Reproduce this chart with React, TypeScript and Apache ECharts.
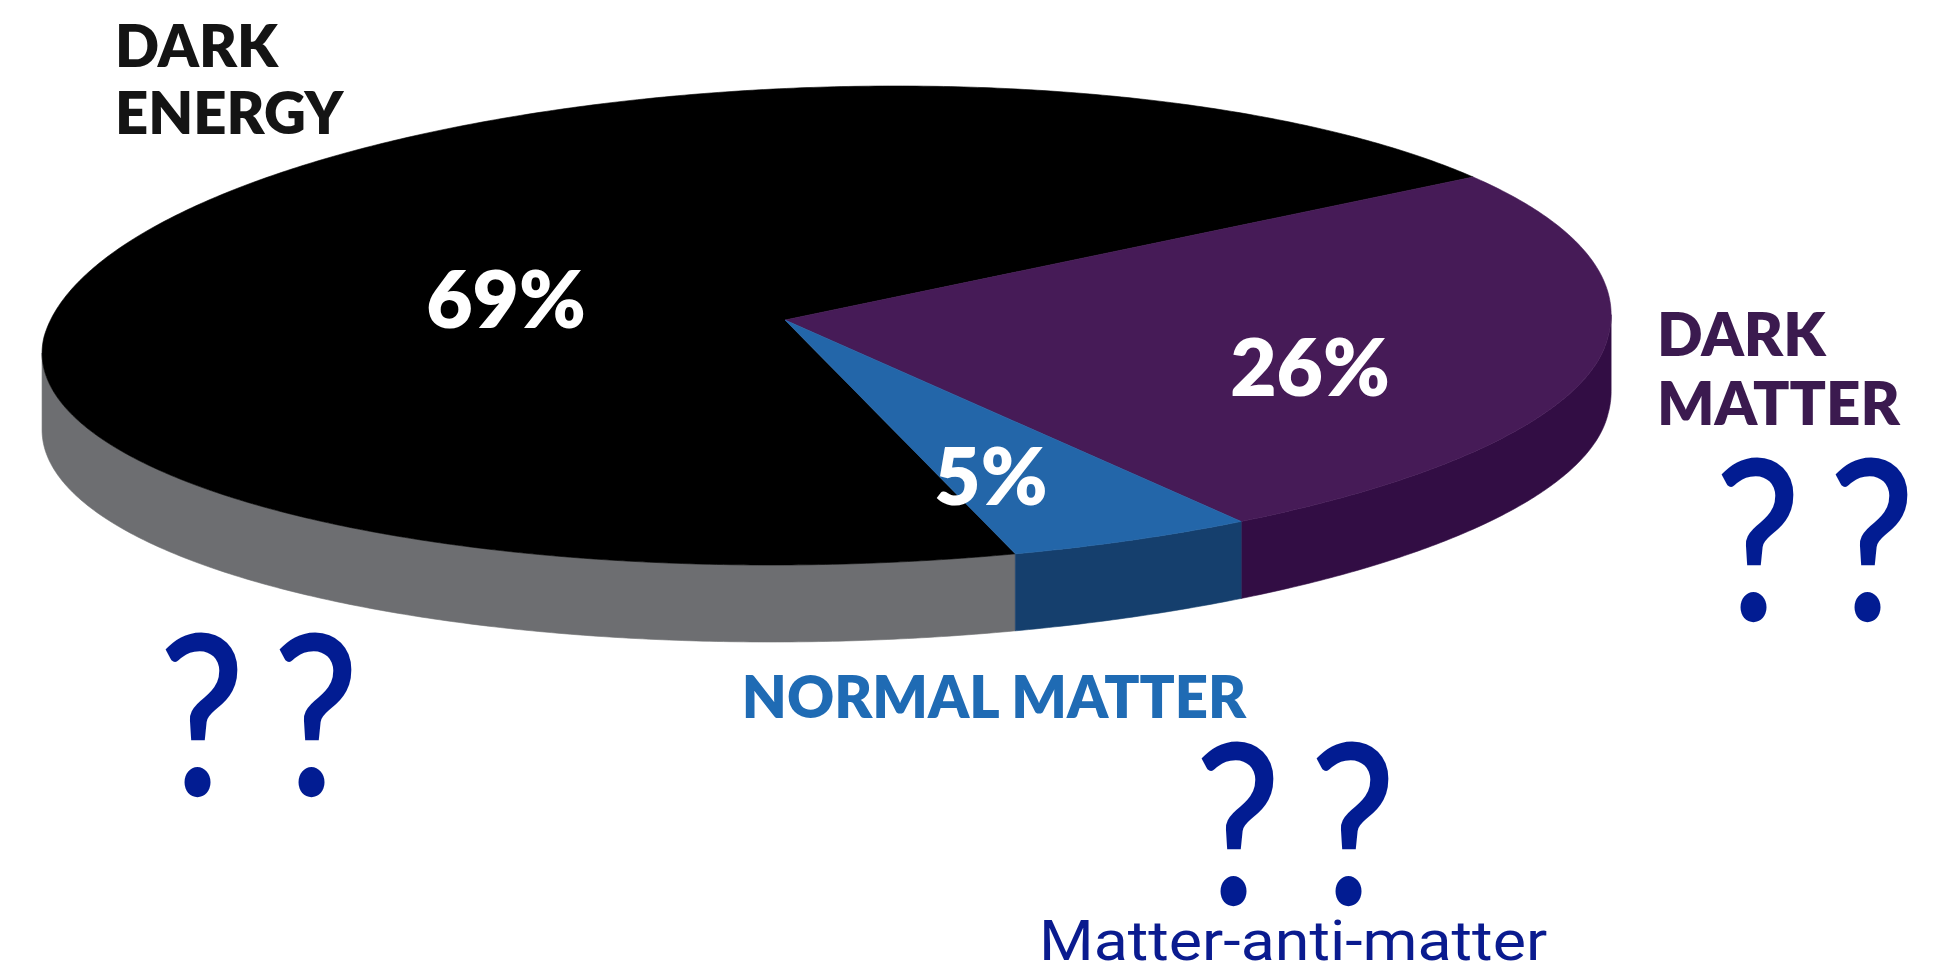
import React, { useEffect, useRef } from "react";
import * as echarts from "echarts";

// ---------------- data ----------------
const categories = ["DARK ENERGY", "DARK MATTER", "NORMAL MATTER"];
const shares = [69, 26, 5];
const questionMarks = ["??", "??", "??"];
const annotation = "Matter-anti-matter";

// ---------------- styles / layout ----------------
const topColors = ["#000000", "#461b57", "#2366a9"];
const sideColors = ["#6d6e71", "#320d44", "#153f6d"];
const nameColors = ["#141414", "#3b1a4f", "#1f6bb4"];
const qColor = "#021c92";

const W = 1942;
const H = 974;
const CX = 826;
const CY = 337;
const RX = 782;
const RY_TOP = 251;
const RY_BOT = 228;
const SHEAR_TOP = 70;
const SHEAR_BOT = 55;
const DEPTH = 77;
const APEX = [785, 320];
const START_ANGLE = 288; // degrees, slices run clockwise

const VALUE_LABEL_POS = [
  [506, 297],
  [1310, 365],
  [991, 474],
];
const NAME_LAYOUT = [
  { x: 115, ys: [44, 111], align: "left", wrap: true, size: 58 },
  { x: 1657, ys: [333, 402], align: "left", wrap: true, size: 60 },
  { x: 994, ys: [695], align: "center", wrap: false, size: 58 },
];
const Q_LAYOUT = [
  { xs: [202, 316], y: 708 },
  { xs: [1758, 1872], y: 533 },
  { xs: [1238, 1353], y: 817 },
];

const LABEL_FONT = "Lato, 'Open Sans', sans-serif";

// parametric rim point (t in degrees, counter-clockwise, math orientation)
function rim(deg: number): number[] {
  const t = (deg * Math.PI) / 180;
  const c = Math.cos(t);
  const s = Math.sin(t);
  if (s >= 0) return [CX + RX * c + SHEAR_TOP * s, CY - RY_TOP * s];
  return [CX + RX * c + SHEAR_BOT * s, CY - RY_BOT * s];
}

// side wall is visible between the two silhouette points
const T_RIGHT = (Math.atan(SHEAR_TOP / RX) * 180) / Math.PI;
const T_LEFT = 180 + (Math.atan(SHEAR_BOT / RX) * 180) / Math.PI;
function sideVisible(a: number): boolean {
  const n = ((a % 360) + 360) % 360;
  return n >= T_LEFT - 1e-6 || n <= T_RIGHT + 1e-6;
}

function angleList(a0: number, a1: number): number[] {
  const list: number[] = [];
  for (let a = a0; a > a1; a -= 0.5) list.push(a);
  list.push(a1);
  for (let m = -3; m <= 3; m++) {
    for (const b of [T_RIGHT, T_LEFT]) {
      const v = b + m * 360;
      if (v < a0 && v > a1) list.push(v);
    }
  }
  const uniq = Array.from(new Set(list.map((v) => Math.round(v * 1e6) / 1e6)));
  uniq.sort((p, q) => q - p);
  return uniq;
}

export default function App() {
  const ref = useRef<HTMLDivElement>(null);

  useEffect(() => {
    if (!ref.current) return;
    const chart = echarts.init(ref.current, undefined, { renderer: "svg" });
    const total = shares.reduce((a, b) => a + b, 0);

    const renderItem = (params: any, api: any) => {
      const i = params.dataIndex;
      let before = 0;
      for (let j = 0; j < i; j++) before += shares[j];
      const value = api.value(0);
      const a0 = START_ANGLE - (before / total) * 360;
      const a1 = a0 - (value / total) * 360;
      const angles = angleList(a0, a1);

      const children: any[] = [];

      // side wall
      const runs: number[][] = [];
      let cur: number[] = [];
      for (const a of angles) {
        if (sideVisible(a)) {
          cur.push(a);
        } else {
          if (cur.length > 1) runs.push(cur);
          cur = [];
        }
      }
      if (cur.length > 1) runs.push(cur);
      for (const run of runs) {
        const upper = run.map(rim);
        const lower = run
          .slice()
          .reverse()
          .map((a) => {
            const p = rim(a);
            return [p[0], p[1] + DEPTH];
          });
        children.push({
          type: "polygon",
          shape: { points: upper.concat(lower) },
          style: { fill: sideColors[i], stroke: sideColors[i], lineWidth: 0.6 },
        });
      }

      // top face
      const topPts = [APEX].concat(angles.map(rim));
      children.push({
        type: "polygon",
        shape: { points: topPts },
        style: { fill: topColors[i], stroke: topColors[i], lineWidth: 0.6 },
      });

      // value label
      children.push({
        type: "text",
        x: VALUE_LABEL_POS[i][0],
        y: VALUE_LABEL_POS[i][1],
        style: {
          text: value + "%",
          fill: "#ffffff",
          fontSize: 80,
          fontWeight: 800,
          fontFamily: LABEL_FONT,
          textAlign: "center",
          textVerticalAlign: "middle",
        },
      });

      // category name
      const nl = NAME_LAYOUT[i];
      const lines = nl.wrap ? categories[i].split(" ") : [categories[i]];
      lines.forEach((line, k) => {
        children.push({
          type: "text",
          x: nl.x,
          y: nl.ys[k],
          style: {
            text: line,
            fill: nameColors[i],
            fontSize: nl.size,
            fontWeight: 800,
            fontFamily: LABEL_FONT,
            textAlign: nl.align,
            textVerticalAlign: "middle",
          },
        });
      });

      return { type: "group", children };
    };

    const graphics: any[] = [];
    questionMarks.forEach((q, gi) => {
      const chars = q.split("");
      chars.forEach((ch, ci) => {
        graphics.push({
          type: "text",
          x: Q_LAYOUT[gi].xs[ci],
          y: Q_LAYOUT[gi].y,
          scaleX: 0.86,
          style: {
            text: ch,
            fill: qColor,
            stroke: qColor,
            lineWidth: 2.5,
            fontSize: 222,
            fontWeight: "normal",
            fontFamily: "Lato, sans-serif",
            textAlign: "center",
            textVerticalAlign: "middle",
          },
        });
      });
    });
    graphics.push({
      type: "text",
      x: 1039,
      y: 941,
      scaleX: 1.12,
      style: {
        text: annotation,
        fill: "#0a1b8f",
        fontSize: 56,
        lineHeight: 40,
        fontWeight: "normal",
        fontFamily: "Roboto, sans-serif",
        textAlign: "left",
        textVerticalAlign: "middle",
      },
    });

    chart.setOption({
      animation: false,
      backgroundColor: "#ffffff",
      graphic: graphics,
      series: [
        {
          type: "custom",
          coordinateSystem: "none",
          silent: true,
          data: shares.map((v, i) => ({ name: categories[i], value: [v] })),
          renderItem,
        },
      ],
    });

    return () => chart.dispose();
  }, []);

  return (
    <div
      ref={ref}
      style={{ position: "fixed", left: 0, top: 0, width: W, height: H, background: "#fff" }}
    />
  );
}
